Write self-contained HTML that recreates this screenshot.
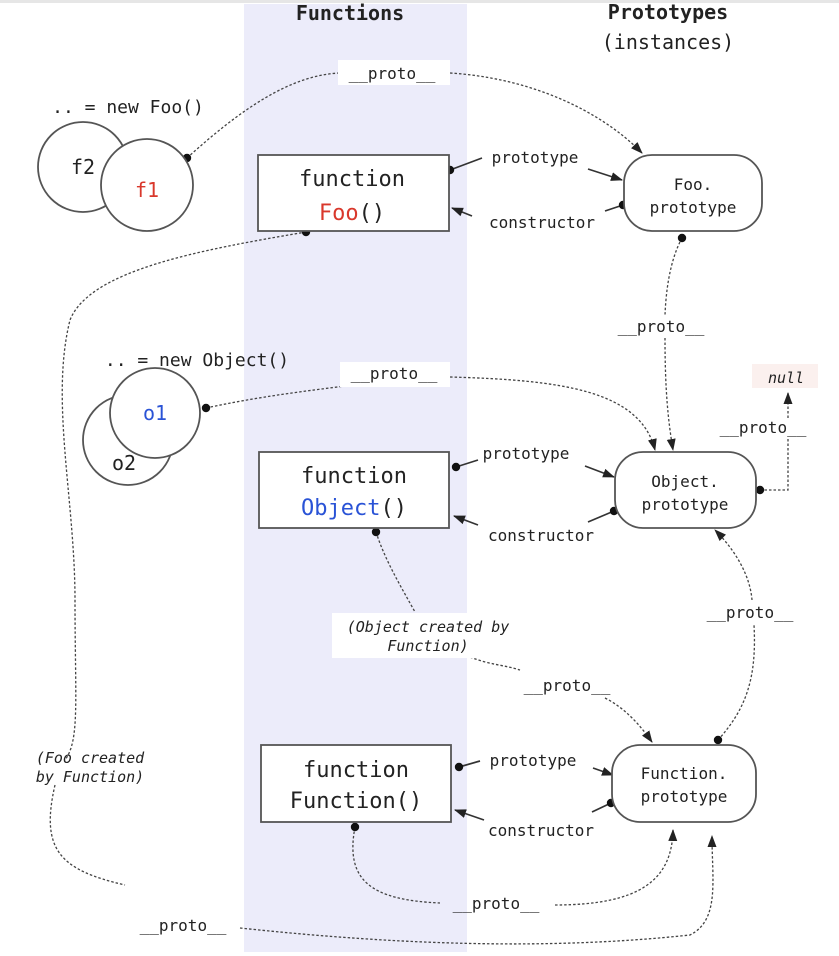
<!DOCTYPE html>
<html><head><meta charset="utf-8"><style>
html,body{margin:0;padding:0;background:#fff;}
svg{display:block;}
text{font-family:"DejaVu Sans Mono","Liberation Mono",monospace;fill:#222;}
.l{font-size:16px;}
.b{font-size:22px;}
.p{font-size:16px;}
.i{font-size:15px;font-style:italic;}
.d{fill:none;stroke:#444;stroke-width:1.3;stroke-dasharray:2.5 2;}
.s{fill:none;stroke:#333;stroke-width:1.7;}
.box{fill:#fff;stroke:#555;stroke-width:1.8;}
</style></head><body>
<svg width="839" height="956" viewBox="0 0 839 956" xmlns="http://www.w3.org/2000/svg">
<defs>
<marker id="a" markerWidth="12" markerHeight="12" refX="11" refY="6" orient="auto" markerUnits="userSpaceOnUse"><path d="M0,1.5 L12,6 L0,10.5 z" fill="#222"/></marker>
<marker id="o" markerWidth="10" markerHeight="10" refX="5" refY="5" markerUnits="userSpaceOnUse"><circle cx="5" cy="5" r="4.2" fill="#111"/></marker>
</defs>
<rect x="0" y="0" width="839" height="3" fill="#e6e6e6"/>
<rect x="244" y="4" width="223" height="948" fill="#ececfa"/>

<text x="350" y="20" class="b" text-anchor="middle" font-weight="bold" style="font-size:20px">Functions</text>
<text x="668" y="19" class="b" text-anchor="middle" font-weight="bold" style="font-size:20px">Prototypes</text>
<text x="668" y="49" text-anchor="middle" style="font-size:20px">(instances)</text>

<!-- connectors -->
<path class="d" d="M187,158 C240,110 290,75 340,73" marker-start="url(#o)"/>
<path class="d" d="M450,73 C530,78 600,110 642,153" marker-end="url(#a)"/>
<path class="s" d="M450,170 L482,158" marker-start="url(#o)"/>
<path class="s" d="M588,169 L622,180" marker-end="url(#a)"/>
<path class="s" d="M623,205 L605,211" marker-start="url(#o)"/>
<path class="s" d="M472,216 L452,208" marker-end="url(#a)"/>
<path class="d" d="M306,232 C200,250 90,270 70,320 C50,400 75,500 75,600 C75,700 80,740 65,760"  marker-start="url(#o)"/>
<path class="d" d="M55,785 C40,850 60,870 125,885"/>
<path class="d" d="M240,928 C400,945 550,950 690,935 C720,920 712,880 712,836" marker-end="url(#a)"/>
<path class="d" d="M682,238 C670,260 666,290 665,315" marker-start="url(#o)"/>
<path class="d" d="M665,338 C665,390 668,420 673,450" marker-end="url(#a)"/>
<path class="d" d="M206,408 C280,392 340,388 370,382" marker-start="url(#o)"/>
<path class="d" d="M450,377 C560,380 640,390 655,450" marker-end="url(#a)"/>
<path class="d" d="M760,490 L788,490 L788,438" marker-start="url(#o)"/>
<path class="d" d="M788,418 L788,393" marker-end="url(#a)"/>
<path class="s" d="M456,467 L478,460" marker-start="url(#o)"/>
<path class="s" d="M585,466 L614,477" marker-end="url(#a)"/>
<path class="s" d="M614,511 L588,522" marker-start="url(#o)"/>
<path class="s" d="M478,525 L454,516" marker-end="url(#a)"/>
<path class="d" d="M376,532 C385,560 400,585 415,612" marker-start="url(#o)"/>
<path class="d" d="M470,657 C490,665 505,665 520,670"/>
<path class="d" d="M605,698 C625,708 640,725 652,742" marker-end="url(#a)"/>
<path class="d" d="M718,740 C745,710 757,680 754,625" marker-start="url(#o)"/>
<path class="d" d="M752,600 C750,575 735,550 715,530" marker-end="url(#a)"/>
<path class="s" d="M459,767 L480,761" marker-start="url(#o)"/>
<path class="s" d="M593,768 L613,775" marker-end="url(#a)"/>
<path class="s" d="M611,803 L592,812" marker-start="url(#o)"/>
<path class="s" d="M484,820 L455,810" marker-end="url(#a)"/>
<path class="d" d="M355,827 C345,880 370,900 440,903" marker-start="url(#o)"/>
<path class="d" d="M555,905 C640,905 672,880 673,830" marker-end="url(#a)"/>

<!-- label backgrounds -->
<rect x="338" y="60" width="112" height="25" fill="#fff"/>
<rect x="340" y="362" width="110" height="25" fill="#fff"/>
<rect x="332" y="613" width="188" height="45" fill="#fff"/>
<rect x="752" y="364" width="66" height="24" fill="#fbf0ee"/>

<!-- nodes -->
<circle cx="83" cy="167" r="45" class="box"/>
<circle cx="147" cy="185" r="46" class="box"/>
<text x="83" y="174" class="b" text-anchor="middle" style="font-size:20px">f2</text>
<text x="147" y="197" class="b" text-anchor="middle" style="font-size:20px;fill:#d9382c">f1</text>
<text x="128" y="113" class="l" text-anchor="middle" style="font-size:18px">.. = new Foo()</text>

<circle cx="128" cy="440" r="45" class="box"/>
<circle cx="155" cy="413" r="45" class="box"/>
<text x="124" y="470" class="b" text-anchor="middle" style="font-size:20px">o2</text>
<text x="155" y="420" class="b" text-anchor="middle" style="font-size:20px;fill:#2a53d6">o1</text>
<text x="197" y="366" class="l" text-anchor="middle" style="font-size:18px">.. = new Object()</text>

<rect x="258" y="155" width="191" height="76" class="box"/>
<text x="352" y="186" class="b" text-anchor="middle">function</text>
<text x="352" y="220" class="b" text-anchor="middle"><tspan style="fill:#d9382c">Foo</tspan>()</text>

<rect x="259" y="452" width="190" height="76" class="box"/>
<text x="354" y="483" class="b" text-anchor="middle">function</text>
<text x="354" y="515" class="b" text-anchor="middle"><tspan style="fill:#2a53d6">Object</tspan>()</text>

<rect x="261" y="745" width="190" height="77" class="box"/>
<text x="356" y="777" class="b" text-anchor="middle">function</text>
<text x="356" y="808" class="b" text-anchor="middle">Function()</text>

<rect x="624" y="155" width="138" height="76" rx="28" ry="28" class="box"/>
<text x="693" y="190" class="p" text-anchor="middle">Foo.</text>
<text x="693" y="213" class="p" text-anchor="middle">prototype</text>

<rect x="615" y="452" width="141" height="76" rx="28" ry="28" class="box"/>
<text x="685" y="487" class="p" text-anchor="middle">Object.</text>
<text x="685" y="510" class="p" text-anchor="middle">prototype</text>

<rect x="612" y="745" width="144" height="77" rx="28" ry="28" class="box"/>
<text x="684" y="779" class="p" text-anchor="middle">Function.</text>
<text x="684" y="802" class="p" text-anchor="middle">prototype</text>

<!-- labels -->
<text x="392" y="79" class="l" text-anchor="middle">__proto__</text>
<text x="535" y="163" class="l" text-anchor="middle">prototype</text>
<text x="542" y="228" class="l" text-anchor="middle">constructor</text>
<text x="661" y="332" class="l" text-anchor="middle">__proto__</text>
<text x="394" y="379" class="l" text-anchor="middle">__proto__</text>
<text x="786" y="383" class="i" text-anchor="middle">null</text>
<text x="763" y="433" class="l" text-anchor="middle">__proto__</text>
<text x="526" y="459" class="l" text-anchor="middle">prototype</text>
<text x="541" y="541" class="l" text-anchor="middle">constructor</text>
<text x="428" y="632" class="i" text-anchor="middle">(Object created by</text>
<text x="428" y="651" class="i" text-anchor="middle">Function)</text>
<text x="750" y="618" class="l" text-anchor="middle">__proto__</text>
<text x="567" y="691" class="l" text-anchor="middle">__proto__</text>
<text x="90" y="763" class="i" text-anchor="middle">(Foo created</text>
<text x="90" y="782" class="i" text-anchor="middle">by Function)</text>
<text x="533" y="766" class="l" text-anchor="middle">prototype</text>
<text x="541" y="836" class="l" text-anchor="middle">constructor</text>
<text x="496" y="909" class="l" text-anchor="middle">__proto__</text>
<text x="183" y="931" class="l" text-anchor="middle">__proto__</text>
</svg>
</body></html>
